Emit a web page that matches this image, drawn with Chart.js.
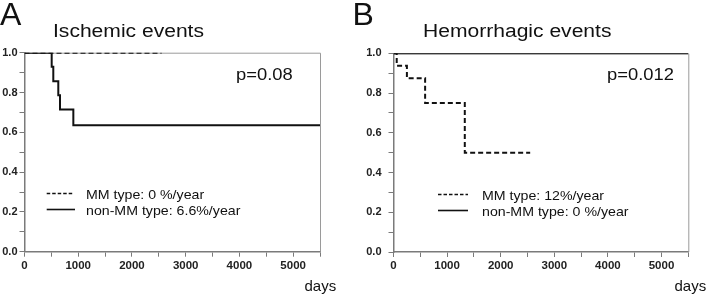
<!DOCTYPE html>
<html>
<head>
<meta charset="utf-8">
<script src="https://cdn.jsdelivr.net/npm/chart.js@4.4.1/dist/chart.umd.min.js"></script>
<style>
  html, body { margin: 0; padding: 0; background: #fff; }
  #wrap { position: relative; width: 709px; height: 296px; overflow: hidden; background: #fff; }
  canvas { position: absolute; top: 0; }
  .t { position: absolute; white-space: nowrap; line-height: 1; color: #111;
       font-family: "Liberation Sans", Arial, sans-serif; transform-origin: 0 0; }
</style>
</head>
<body>
<div id="wrap">
  <canvas id="cA" width="355" height="296" style="left:0px;width:355px;height:296px"></canvas>
  <canvas id="cB" width="354" height="296" style="left:355px;width:354px;height:296px"></canvas>

  <div class="t" style="left:0px;top:-2.1px;font-size:32px;">A</div>
  <div class="t" style="left:352.5px;top:-2.1px;font-size:32px;">B</div>

  <div class="t" style="left:52.8px;top:21.8px;font-size:18px;transform:scaleX(1.17);">Ischemic events</div>
  <div class="t" style="left:423.3px;top:21.8px;font-size:18px;transform:scaleX(1.17);">Hemorrhagic events</div>

  <div class="t" style="left:235.7px;top:65.6px;font-size:17px;transform:scaleX(1.08);">p=0.08</div>
  <div class="t" style="left:607px;top:65.6px;font-size:17px;transform:scaleX(1.08);">p=0.012</div>

  <div class="t" style="left:85.7px;top:188px;font-size:13px;transform:scaleX(1.09);">MM type: 0 %/year</div>
  <div class="t" style="left:85.7px;top:204px;font-size:13px;transform:scaleX(1.09);">non-MM type: 6.6%/year</div>
  <div class="t" style="left:481.8px;top:189px;font-size:13px;transform:scaleX(1.09);">MM type: 12%/year</div>
  <div class="t" style="left:481.8px;top:205px;font-size:13px;transform:scaleX(1.09);">non-MM type: 0 %/year</div>

  <div class="t" style="left:304.5px;top:278.3px;font-size:15px;">days</div>
  <div class="t" style="left:674.5px;top:278.3px;font-size:15px;">days</div>
</div>

<script>
// ---- Data ----
// Panel A: Ischemic events (Kaplan-Meier event-free survival)
const ischemicMMDays      = [0, 2550];
const ischemicMMSurv      = [1.0, 1.0];
const ischemicNonMMDays   = [0, 506, 536, 629, 661, 909, 5500];
const ischemicNonMMSurv   = [1.0, 0.929, 0.857, 0.786, 0.714, 0.636, 0.636];

// Panel B: Hemorrhagic events
const hemorrhagicMMDays    = [0, 60, 250, 590, 1330, 2550];
const hemorrhagicMMSurv    = [1.0, 0.9375, 0.875, 0.75, 0.5, 0.5];
const hemorrhagicNonMMDays = [0, 5500];
const hemorrhagicNonMMSurv = [1.0, 1.0];

// Axis ticks
const xTickLabels = [0, 1000, 2000, 3000, 4000, 5000];
const yTickLabels = [0.0, 0.2, 0.4, 0.6, 0.8, 1.0];
const xMax = 5500;

function pts(xs, ys) { return xs.map((x, i) => ({ x: x, y: ys[i] })); }

const framePlugin = {
  id: 'frame',
  beforeDatasetsDraw(chart) {
    const a = chart.chartArea, ctx = chart.ctx;
    ctx.save();
    ctx.strokeStyle = '#9a9a9a';
    ctx.lineWidth = 1;
    ctx.beginPath();
    ctx.moveTo(a.left, a.top + 0.5);
    ctx.lineTo(a.right + 0.5, a.top + 0.5);
    ctx.lineTo(a.right + 0.5, a.bottom);
    ctx.stroke();
    ctx.restore();
  }
};

const legendSamplePlugin = {
  id: 'legendSamples',
  afterDraw(chart, args, opts) {
    const ctx = chart.ctx;
    ctx.save();
    opts.items.forEach(it => {
      const ds = chart.data.datasets[it.dataset];
      ctx.strokeStyle = ds.borderColor;
      ctx.lineWidth = 1.6;
      ctx.setLineDash(it.dash || []);
      ctx.beginPath();
      ctx.moveTo(it.x0, it.y);
      ctx.lineTo(it.x1, it.y);
      ctx.stroke();
    });
    ctx.restore();
  }
};

function makeChart(id, mmDays, mmSurv, nonDays, nonSurv, pad, yWidth, yPadding, legendItems) {
  return new Chart(document.getElementById(id), {
    type: 'line',
    data: {
      datasets: [
        { label: 'MM type', data: pts(mmDays, mmSurv), stepped: true,
          borderColor: '#111', borderWidth: 2, borderDash: [5, 3],
          pointRadius: 0, fill: false },
        { label: 'non-MM type', data: pts(nonDays, nonSurv), stepped: true,
          borderColor: '#111', borderWidth: 2,
          pointRadius: 0, fill: false }
      ]
    },
    options: {
      responsive: false,
      animation: false,
      devicePixelRatio: 1,
      layout: { padding: pad },
      plugins: {
        legend: { display: false },
        tooltip: { enabled: false },
        title: { display: false },
        legendSamples: { items: legendItems }
      },
      scales: {
        x: {
          type: 'linear', min: 0, max: xMax,
          afterFit(s) { s.height = 20; },
          border: { display: true, color: '#7a7a7a', width: 1.5 },
          grid: { drawOnChartArea: false, drawTicks: true, tickLength: 5, color: '#7a7a7a', tickColor: '#7a7a7a' },
          ticks: {
            stepSize: 500, autoSkip: false, maxRotation: 0, padding: 2,
            color: '#222',
            font: { family: '"Liberation Sans", Arial, sans-serif', size: 11.5, weight: 'bold' },
            callback(v) { return xTickLabels.includes(v) ? String(v) : ''; }
          }
        },
        y: {
          type: 'linear', min: 0, max: 1,
          afterFit(s) { s.width = yWidth; },
          border: { display: true, color: '#7a7a7a', width: 1.5 },
          grid: { drawOnChartArea: false, drawTicks: true, tickLength: 5, color: '#7a7a7a', tickColor: '#7a7a7a' },
          ticks: {
            stepSize: 0.1, autoSkip: false, padding: yPadding,
            color: '#222',
            font: { family: '"Liberation Sans", Arial, sans-serif', size: 11, weight: 'bold' },
            callback(v) {
              const r = Math.round(v * 10) / 10;
              return yTickLabels.some(t => Math.abs(t - r) < 1e-9) ? r.toFixed(1) : '';
            }
          }
        }
      }
    },
    plugins: [framePlugin, legendSamplePlugin]
  });
}

makeChart('cA', ischemicMMDays, ischemicMMSurv, ischemicNonMMDays, ischemicNonMMSurv,
  { left: 0.5, right: 35, top: 52.7, bottom: 24.3 }, 24, 2,
  [ { dataset: 0, x0: 46.7, x1: 72.3, y: 193.5, dash: [3.5, 2] },
    { dataset: 1, x0: 46.7, x1: 75, y: 209.5 } ]);

makeChart('cB', hemorrhagicMMDays, hemorrhagicMMSurv, hemorrhagicNonMMDays, hemorrhagicNonMMSurv,
  { left: 0.5, right: 20.7, top: 53.3, bottom: 24 }, 38, 7,
  [ { dataset: 0, x0: 83, x1: 113, y: 194.5, dash: [3.5, 2] },
    { dataset: 1, x0: 83, x1: 113, y: 210.5 } ]);
</script>
</body>
</html>
